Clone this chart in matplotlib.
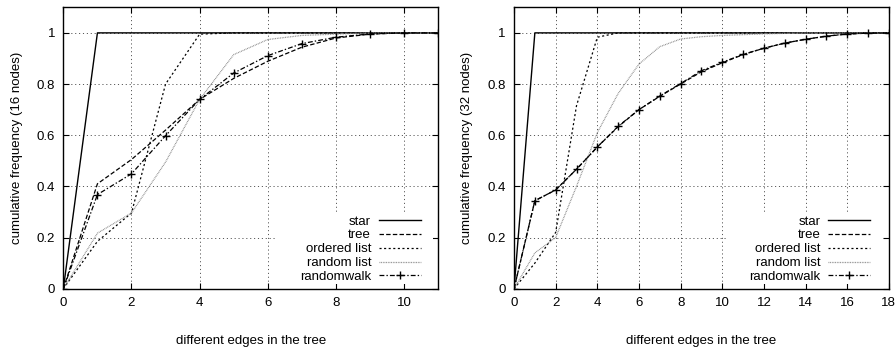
import matplotlib
matplotlib.use("Agg")
import matplotlib.pyplot as plt
from matplotlib.patches import Rectangle

plt.rcParams['font.family'] = ['Liberation Sans', 'DejaVu Sans']
plt.rcParams['lines.scale_dashes'] = False

# ---- data: 16 nodes ----
x16 = list(range(0, 12))
star16 = [0, 1, 1, 1, 1, 1, 1, 1, 1, 1, 1, 1]
tree16 = [0, 0.41, 0.505, 0.62, 0.74, 0.822, 0.889, 0.944, 0.98, 0.995, 1.0, 1.0]
ordered16 = [0, 0.185, 0.296, 0.80, 0.995, 1, 1, 1, 1, 1, 1, 1]
randlist16 = [0, 0.217, 0.296, 0.495, 0.74, 0.915, 0.974, 0.99, 0.995, 1.0, 1.0, 1.0]
walk16 = [0, 0.368, 0.449, 0.598, 0.74, 0.843, 0.911, 0.958, 0.983, 0.996, 1.0, 1.0]

# ---- data: 32 nodes ----
x32 = list(range(0, 19))
star32 = [0] + [1] * 18
tree32 = [0, 0.344, 0.386, 0.467, 0.554, 0.633, 0.70, 0.752, 0.80, 0.848,
          0.883, 0.915, 0.94, 0.96, 0.975, 0.987, 0.995, 0.999, 1.0]
ordered32 = [0, 0.10, 0.22, 0.715, 0.983, 1, 1, 1, 1, 1, 1, 1, 1, 1, 1, 1, 1, 1, 1]
randlist32 = [0, 0.14, 0.20, 0.40, 0.61, 0.763, 0.878, 0.946, 0.976, 0.985,
              0.99, 0.993, 0.996, 0.998, 1.0, 1.0, 1.0, 1.0, 1.0]
walk32 = [0, 0.344, 0.386, 0.467, 0.554, 0.635, 0.70, 0.753, 0.802, 0.852,
          0.885, 0.916, 0.94, 0.96, 0.975, 0.987, 0.996, 0.999, 1.0]

series_labels = ["star", "tree", "ordered list", "random list", "randomwalk"]
yticks = [0, 0.2, 0.4, 0.6, 0.8, 1.0]
ytick_labels = ["0", "0.2", "0.4", "0.6", "0.8", "1"]

FS = 9.5
fig = plt.figure(figsize=(8.96, 3.47), dpi=100)
ax1 = fig.add_axes([0.0707, 0.168, 0.4183, 0.811])
ax2 = fig.add_axes([0.5737, 0.168, 0.4183, 0.811])


def draw(ax, x, star, tree, ordered, randlist, walk, xmax, xticks, ylabel, leg_x):
    lw = 0.9
    ax.plot(x, star, color='black', lw=1.0, label=series_labels[0])
    ax.plot(x, tree, color='black', lw=lw, dashes=(3.2, 1.6), label=series_labels[1])
    ax.plot(x, ordered, color='black', lw=lw, dashes=(1.5, 1.8), label=series_labels[2])
    ax.plot(x, randlist, color='#888888', lw=lw, dashes=(0.6, 0.6), label=series_labels[3])
    ax.plot(x, walk, color='black', lw=lw, dashes=(3.5, 1.5, 1.0, 1.5),
            marker='+', markersize=6, markeredgewidth=1.0, label=series_labels[4])
    ax.set_xlim(0, xmax)
    ax.set_ylim(0, 1.1)
    ax.set_xticks(xticks)
    ax.set_xticklabels([str(t) for t in xticks], fontsize=FS)
    ax.set_yticks(yticks)
    ax.set_yticklabels(ytick_labels, fontsize=FS)
    ax.tick_params(direction='in', length=4, width=0.8, top=True, right=True, pad=6)
    ax.grid(True, color='#555555', lw=0.7, linestyle=(0, (0.8, 2.0)))
    ax.set_axisbelow(True)
    for s in ax.spines.values():
        s.set_linewidth(1.0)
    ax.set_xlabel("different edges in the tree", fontsize=FS, labelpad=19)
    ax.set_ylabel(ylabel, fontsize=FS, labelpad=10)
    # opaque key area (hides the grid behind the key)
    ax.add_patch(Rectangle((0.567, 0.016), 0.418, 0.250, transform=ax.transAxes,
                           facecolor='white', edgecolor='none', zorder=0.8))
    leg = ax.legend(loc='lower right', bbox_to_anchor=(leg_x, 0.02), fontsize=FS,
                    markerfirst=False, handlelength=3.2, handletextpad=0.6,
                    labelspacing=0.125, frameon=False,
                    borderaxespad=0.0, borderpad=0.0)
    leg.set_zorder(5)


draw(ax1, x16, star16, tree16, ordered16, randlist16, walk16, 11,
     [0, 2, 4, 6, 8, 10], "cumulative frequency (16 nodes)", 0.955)
draw(ax2, x32, star32, tree32, ordered32, randlist32, walk32, 18,
     list(range(0, 19, 2)), "cumulative frequency (32 nodes)", 0.951)

fig.savefig("out.png", dpi=100)
